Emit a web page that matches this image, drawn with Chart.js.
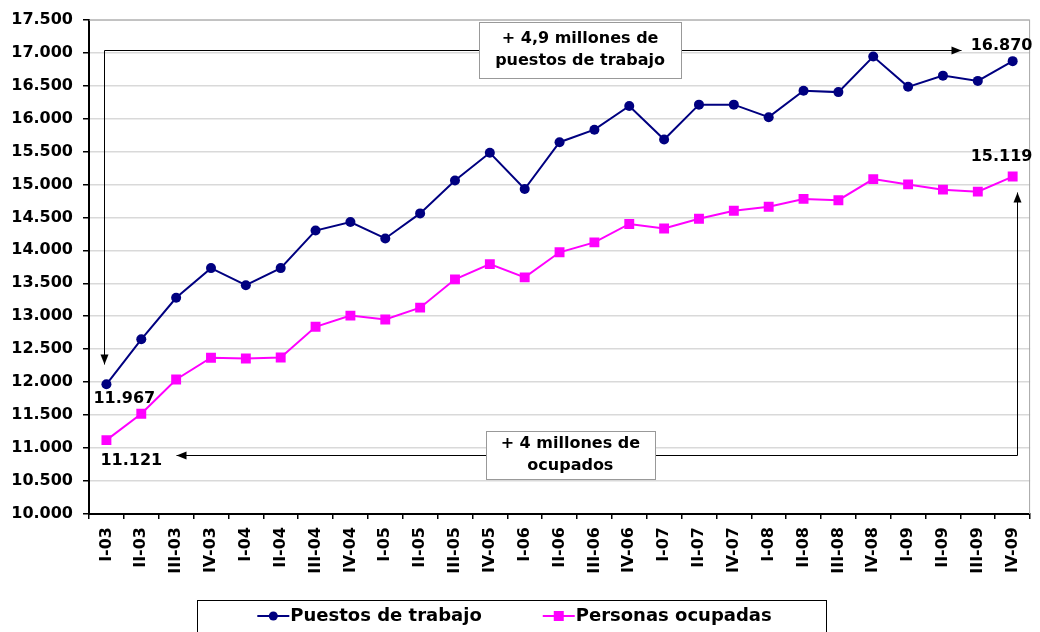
<!DOCTYPE html>
<html>
<head>
<meta charset="utf-8">
<script src="https://cdn.jsdelivr.net/npm/chart.js@4/dist/chart.umd.min.js"></script>
<style>
  html, body { margin: 0; padding: 0; background: #fff; }
  #wrap { width: 1040px; height: 632px; }
</style>
</head>
<body>
<div id="wrap"><canvas id="chart" width="1040" height="632"></canvas></div>
<script>
// quarters (III-07 is not in the source series)
const quarters = [
  "I-03", "II-03", "III-03", "IV-03",
  "I-04", "II-04", "III-04", "IV-04",
  "I-05", "II-05", "III-05", "IV-05",
  "I-06", "II-06", "III-06", "IV-06",
  "I-07", "II-07", "IV-07",
  "I-08", "II-08", "III-08", "IV-08",
  "I-09", "II-09", "III-09", "IV-09"
];
// thousands
const puestos = [
  11967, 12650, 13280, 13730,
  13470, 13730, 14300, 14430,
  14180, 14560, 15060, 15480,
  14930, 15640, 15830, 16190,
  15680, 16210, 16210,
  16020, 16420, 16400, 16940,
  16480, 16650, 16570, 16870
];
const ocupados = [
  11121, 11520, 12040, 12370,
  12360, 12375, 12840, 13010,
  12950, 13130, 13560, 13790,
  13590, 13970, 14120, 14400,
  14330, 14480, 14600,
  14660, 14780, 14760, 15080,
  15000, 14920, 14890, 15119
];
const seriesNames = ["Puestos de trabajo", "Personas ocupadas"];
const seriesColors = ["#000080", "#ff00ff"];
const yTicks = { min: 10000, max: 17500, step: 500 };

// annotation notes: x as category index, y as value
const notes = [
  { lines: ["+ 4,9 millones de", "puestos de trabajo"], x: 13.59, y: 17045, w: 202, h: 56 },
  { lines: ["+ 4 millones de", "ocupados"], x: 13.31, y: 10894, w: 169, h: 48 }
];
const arrows = [
  // polyline, arrow heads at both ends
  [[24.53, 17045], [-0.07, 17045], [-0.07, 12273]],
  [[1.99, 10894], [26.13, 10894], [26.13, 14879]]
];

const FONT = "'DejaVu Sans', Verdana, sans-serif";

function fmt(v) {
  return String(Math.round(v)).replace(/\B(?=(\d{3})+(?!\d))/g, ".");
}

const extras = {
  id: "extras",
  beforeDatasetsDraw(chart) {
    const { ctx, chartArea: a } = chart;
    ctx.save();
    ctx.strokeStyle = "#a6a6a6";
    ctx.lineWidth = 1;
    ctx.beginPath();
    ctx.moveTo(a.left, a.top + 0.5);
    ctx.lineTo(a.right - 0.5, a.top + 0.5);
    ctx.lineTo(a.right - 0.5, a.bottom);
    ctx.stroke();
    ctx.restore();
  },
  afterDraw(chart) {
    const { ctx } = chart;
    const xs = chart.scales.x, ys = chart.scales.y;
    ctx.save();

    // arrows
    ctx.strokeStyle = "#000";
    ctx.fillStyle = "#000";
    ctx.lineWidth = 1;
    arrows.forEach(pts => {
      const p = pts.map(q => [Math.round(xs.getPixelForValue(q[0])) + 0.5, Math.round(ys.getPixelForValue(q[1])) + 0.5]);
      ctx.beginPath();
      ctx.moveTo(p[0][0], p[0][1]);
      for (let i = 1; i < p.length; i++) ctx.lineTo(p[i][0], p[i][1]);
      ctx.stroke();
      const heads = [[p[0], p[1]], [p[p.length - 1], p[p.length - 2]]];
      heads.forEach(([tip, from]) => {
        const ang = Math.atan2(tip[1] - from[1], tip[0] - from[0]);
        ctx.beginPath();
        ctx.moveTo(tip[0], tip[1]);
        ctx.lineTo(tip[0] - 10 * Math.cos(ang) + 4 * Math.sin(ang), tip[1] - 10 * Math.sin(ang) - 4 * Math.cos(ang));
        ctx.lineTo(tip[0] - 10 * Math.cos(ang) - 4 * Math.sin(ang), tip[1] - 10 * Math.sin(ang) + 4 * Math.cos(ang));
        ctx.closePath();
        ctx.fill();
      });
    });

    // boxes
    notes.forEach(n => {
      const cx = xs.getPixelForValue(n.x), cy = ys.getPixelForValue(n.y);
      const l = Math.round(cx - n.w / 2) + 0.5, t = Math.round(cy - n.h / 2) + 0.5;
      ctx.fillStyle = "#fff";
      ctx.fillRect(l, t, n.w, n.h);
      ctx.strokeStyle = "#999";
      ctx.strokeRect(l, t, n.w, n.h);
      ctx.fillStyle = "#000";
      ctx.font = "bold 16px " + FONT;
      ctx.textAlign = "center";
      ctx.textBaseline = "middle";
      const lh = 22;
      n.lines.forEach((s, i) => {
        ctx.fillText(s, cx, cy + (i - (n.lines.length - 1) / 2) * lh);
      });
    });

    // end value labels
    ctx.font = "bold 16px " + FONT;
    ctx.textAlign = "left";
    ctx.textBaseline = "middle";
    ctx.fillStyle = "#000";
    const ends = [
      [0, 0, -13, 15], [0, puestos.length - 1, -42, -15],
      [1, 0, -6, 21], [1, ocupados.length - 1, -42, -20]
    ];
    ends.forEach(([d, i, dx, dy]) => {
      const el = chart.getDatasetMeta(d).data[i];
      const v = chart.data.datasets[d].data[i];
      ctx.fillText(fmt(v), el.x + dx, el.y + dy);
    });

    // legend
    ctx.font = "bold 18px " + FONT;
    const ds = chart.data.datasets;
    const sample = 32, gap = 62;
    const w0 = ctx.measureText(ds[0].label).width, w1 = ctx.measureText(ds[1].label).width;
    const total = sample + w0 + gap + sample + w1;
    const cxL = 514, ly = 616;
    ctx.strokeStyle = "#000";
    ctx.lineWidth = 1;
    ctx.strokeRect(197.5, 600.5, 629, 40);
    let x = cxL - total / 2;
    ds.forEach((d, k) => {
      ctx.strokeStyle = d.borderColor;
      ctx.fillStyle = d.borderColor;
      ctx.lineWidth = 2;
      ctx.beginPath();
      ctx.moveTo(x, ly);
      ctx.lineTo(x + sample, ly);
      ctx.stroke();
      if (d.pointStyle === "rect") {
        ctx.fillRect(x + sample / 2 - 5, ly - 5, 10, 10);
      } else {
        ctx.beginPath();
        ctx.arc(x + sample / 2, ly, 4.5, 0, Math.PI * 2);
        ctx.fill();
      }
      ctx.fillStyle = "#000";
      ctx.textAlign = "left";
      ctx.fillText(d.label, x + sample + 1, ly);
      x += sample + (k === 0 ? w0 + gap : w1);
    });

    ctx.restore();
  }
};

const config = {
  type: "line",
  data: {
    labels: quarters,
    datasets: [
      {
        label: seriesNames[0],
        data: puestos,
        borderColor: seriesColors[0],
        backgroundColor: seriesColors[0],
        borderWidth: 2,
        pointStyle: "circle",
        pointRadius: 5,
        pointBorderWidth: 0,
        tension: 0
      },
      {
        label: seriesNames[1],
        data: ocupados,
        borderColor: seriesColors[1],
        backgroundColor: seriesColors[1],
        borderWidth: 2,
        pointStyle: "rect",
        pointRadius: 7,
        pointBorderWidth: 0,
        tension: 0
      }
    ]
  },
  options: {
    responsive: false,
    animation: false,
    layout: { padding: { top: 19, right: 7, left: 0, bottom: 0 } },
    plugins: {
      legend: { display: false },
      tooltip: { enabled: false }
    },
    scales: {
      x: {
        type: "category",
        offset: true,
        afterFit(scale) { scale.height = 118; },
        grid: {
          offset: true,
          drawOnChartArea: false,
          drawTicks: true,
          tickLength: 5,
          tickColor: "#000",
          lineWidth: 1.5
        },
        border: { display: true, color: "#000", width: 2 },
        ticks: {
          autoSkip: false,
          minRotation: 90,
          maxRotation: 90,
          padding: 8,
          color: "#000",
          font: { family: FONT, size: 16, weight: "bold" }
        }
      },
      y: {
        min: yTicks.min,
        max: yTicks.max,
        afterFit(scale) { scale.width = 89; },
        grid: {
          color: "#d9d9d9",
          lineWidth: 1.5,
          tickColor: "#000",
          tickLength: 6,
          drawTicks: true
        },
        border: { display: true, color: "#000", width: 2 },
        ticks: {
          stepSize: yTicks.step,
          padding: 10,
          color: "#000",
          font: { family: FONT, size: 16, weight: "bold" },
          callback: v => fmt(v)
        }
      }
    }
  },
  plugins: [extras]
};

new Chart(document.getElementById("chart").getContext("2d"), config);
</script>
</body>
</html>
